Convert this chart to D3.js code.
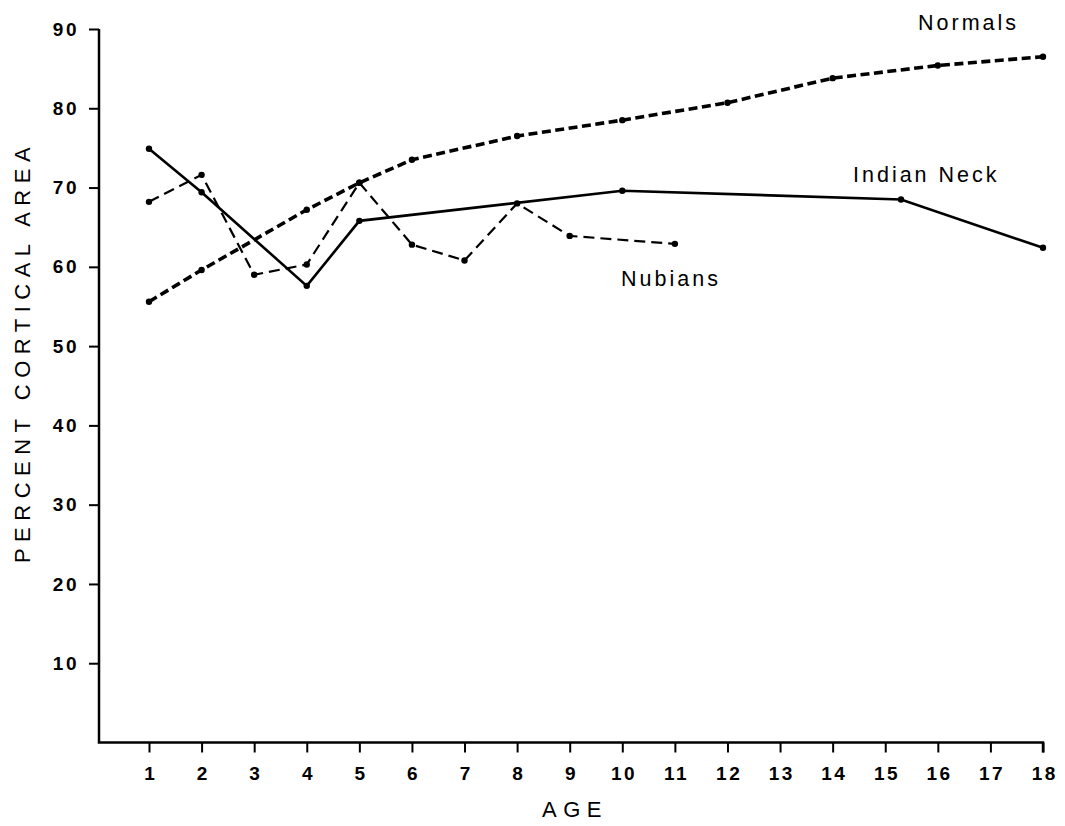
<!DOCTYPE html>
<html lang="en">
<head>
  <meta charset="UTF-8">
  <title>Percent cortical area by age</title>
  <script src="https://d3js.org/d3.v7.min.js"></script>
  <style>
    body { margin: 0; background: #fff; }
    svg { display: block; }
    path.series { fill: none; stroke: #000; }
  </style>
</head>
<body>
<svg width="1065" height="826"></svg>
<script>
// ages (x) and percent cortical area (y)
const normalsAge = [1, 2, 4, 5, 6, 8, 10, 12, 14, 16, 18];
const normalsVal = [55.6, 59.6, 67.2, 70.6, 73.5, 76.5, 78.5, 80.7, 83.8, 85.4, 86.5];

const indianNeckAge = [1, 2, 4, 5, 10, 15.3, 18];
const indianNeckVal = [74.9, 69.4, 57.6, 65.8, 69.6, 68.5, 62.4];

const nubiansAge = [1, 2, 3, 4, 5, 6, 7, 8, 9, 11];
const nubiansVal = [68.2, 71.6, 59.0, 60.3, 70.6, 62.8, 60.8, 68.0, 63.9, 62.9];

const xTicks = d3.range(1, 19);
const yTicks = [10, 20, 30, 40, 50, 60, 70, 80, 90];

const FONT = '"Liberation Sans", Arial, sans-serif';
const svg = d3.select('svg');

const x = d3.scaleLinear().domain([1, 18]).range([149, 1043]);
const y = d3.scaleLinear().domain([0, 90]).range([742.5, 29]);
const axisX0 = 99;

function styleTicks(g) {
  g.attr('font-size', null).attr('font-family', null);
  g.select('.domain').remove();
  g.selectAll('.tick line').attr('stroke-width', 2);
  g.selectAll('.tick text')
    .attr('font-family', FONT)
    .attr('font-size', 19)
    .attr('font-weight', 'bold')
    .attr('letter-spacing', 2.5)
    .attr('fill', '#000');
}

// axes
const gx = svg.append('g')
  .attr('transform', `translate(0,${y(0)})`)
  .call(d3.axisBottom(x).tickValues(xTicks).tickSize(10).tickPadding(14).tickFormat(d3.format('d')))
  .call(styleTicks);
gx.selectAll('.tick text').attr('dx', 1.2);

const gy = svg.append('g')
  .attr('transform', `translate(${axisX0},0)`)
  .call(d3.axisLeft(y).tickValues(yTicks).tickSize(10).tickPadding(10))
  .call(styleTicks);

svg.append('path')
  .attr('d', `M${axisX0},${y(90)}V${y(0)}H${x(18)}V${y(0) + 10}`)
  .attr('fill', 'none')
  .attr('stroke', '#000')
  .attr('stroke-width', 2.5);

// series
const series = [
  { name: 'Normals', age: normalsAge, val: normalsVal, width: 3.6, dash: '9,4.5', lx: 918, ly: 30 },
  { name: 'Indian Neck', age: indianNeckAge, val: indianNeckVal, width: 2.6, dash: null, lx: 853, ly: 182 },
  { name: 'Nubians', age: nubiansAge, val: nubiansVal, width: 2.2, dash: '11,6', lx: 621, ly: 286 }
];

const line = d3.line().x(d => x(d[0])).y(d => y(d[1]));

series.forEach(s => {
  const pts = s.age.map((a, i) => [a, s.val[i]]);
  svg.append('path')
    .attr('class', 'series')
    .attr('d', line(pts))
    .attr('stroke-width', s.width)
    .attr('stroke-dasharray', s.dash);

  svg.append('g')
    .selectAll('circle')
    .data(pts)
    .enter().append('circle')
    .attr('cx', d => x(d[0]))
    .attr('cy', d => y(d[1]))
    .attr('r', 3.2)
    .attr('fill', '#000');

  svg.append('text')
    .attr('x', s.lx)
    .attr('y', s.ly)
    .attr('font-family', FONT)
    .attr('font-size', 21.5)
    .attr('letter-spacing', 3)
    .text(s.name);
});

// axis titles
svg.append('text')
  .attr('x', 542)
  .attr('y', 817)
  .attr('font-family', FONT)
  .attr('font-size', 22)
  .attr('letter-spacing', 6.5)
  .text('AGE');

svg.append('text')
  .attr('transform', 'translate(30,352) rotate(-90)')
  .attr('text-anchor', 'middle')
  .attr('font-family', FONT)
  .attr('font-size', 22)
  .attr('letter-spacing', 6.5)
  .text('PERCENT CORTICAL AREA');
</script>
</body>
</html>
